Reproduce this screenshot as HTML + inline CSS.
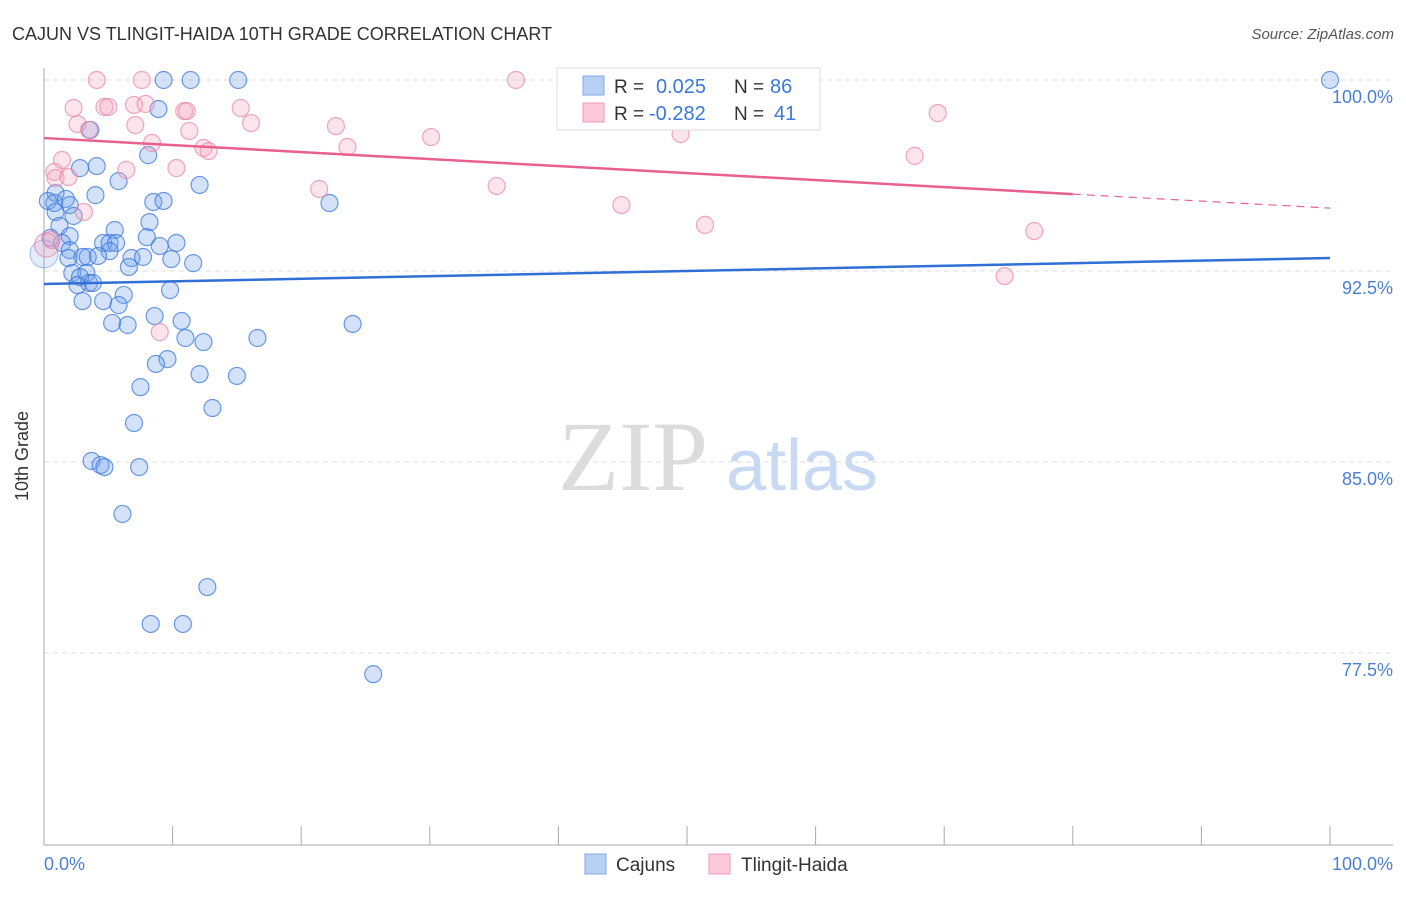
<!DOCTYPE html>
<html><head><meta charset="utf-8"><style>
body{margin:0;background:#fff;font-family:"Liberation Sans",sans-serif;}
svg text{font-family:"Liberation Sans",sans-serif;}
</style></head><body>
<svg id="chart" width="1406" height="892" viewBox="0 0 1406 892" xmlns="http://www.w3.org/2000/svg">
<text x="12" y="40" font-size="18" fill="#333">CAJUN VS TLINGIT-HAIDA 10TH GRADE CORRELATION CHART</text>
<text x="1394" y="39" font-size="15" fill="#555" font-style="italic" text-anchor="end">Source: ZipAtlas.com</text>
<g>
<text x="633" y="490" font-size="100" fill="#dcdcdc" style="font-family:'Liberation Serif',serif" text-anchor="middle">ZIP</text>
<text x="802" y="490" font-size="72" fill="#c8daf3" text-anchor="middle">atlas</text>
</g>
<g id="grid"></g><g id="axes"></g><g id="marks"></g>
<text x="28" y="456" font-size="18" fill="#333" transform="rotate(-90 28 456)" text-anchor="middle">10th Grade</text>
<text x="44" y="870" font-size="18" fill="#4a7fd6">0.0%</text>
<text x="1393" y="870" font-size="18" fill="#4a7fd6" text-anchor="end">100.0%</text>
<g>
<rect x="557" y="68" width="263" height="62" fill="#fff" stroke="#ddd"/>
<rect x="583" y="76" width="21" height="19" fill="#b7d1f5" stroke="#7fa9e8"/>
<rect x="583" y="103" width="21" height="19" fill="#fbc9d8" stroke="#ef9ab5"/>
<text x="614" y="93" font-size="19" fill="#333">R =</text><text x="656" y="93" font-size="20" fill="#3b78d8">0.025</text>
<text x="734" y="93" font-size="19" fill="#333">N =</text><text x="770" y="93" font-size="20" fill="#3b78d8">86</text>
<text x="614" y="120" font-size="19" fill="#333">R =</text><text x="649" y="120" font-size="20" fill="#3b78d8">-0.282</text>
<text x="734" y="120" font-size="19" fill="#333">N =</text><text x="774" y="120" font-size="20" fill="#3b78d8">41</text>
</g>
<g>
<rect x="585" y="854" width="21" height="20" fill="#b7d1f5" stroke="#7fa9e8"/>
<text x="616" y="871" font-size="19" fill="#333">Cajuns</text>
<rect x="709" y="854" width="21" height="20" fill="#fbc9d8" stroke="#ef9ab5"/>
<text x="741" y="871" font-size="19" fill="#333">Tlingit-Haida</text>
</g>
</svg>
<script>
const yTicks=[100,92.5,85,77.5];
const yTickLabels=["100.0%","92.5%","85.0%","77.5%"];
const xTicks=[0,10,20,30,40,50,60,70,80,90,100];
const cajunX=[9.3,11.4,15.1,100,8.9,3.6,8.1,4.1,2.8,5.8,12.1,0.9,4.0,0.3,0.8,1.7,2.0,8.5,9.3,22.2,0.9,2.3,8.2,1.2,5.5,2.0,8.0,0.5,1.4,4.6,5.1,5.6,9.0,10.3,2.0,5.1,3.0,3.4,4.2,1.9,6.8,7.7,9.9,11.6,6.6,2.2,3.3,2.8,3.5,3.8,2.6,9.8,6.2,3.0,4.6,5.8,10.7,8.6,5.3,6.5,24.0,16.6,11.0,12.4,9.6,8.7,12.1,15.0,7.5,13.1,7.0,3.7,4.4,4.7,7.4,6.1,12.7,8.3,10.8,25.6,0];
const cajunY=[100,100,100,100,98.86,98.04,97.05,96.62,96.54,96.03,95.88,95.56,95.48,95.25,95.17,95.33,95.09,95.21,95.25,95.17,94.82,94.66,94.42,94.27,94.11,93.87,93.83,93.80,93.60,93.60,93.60,93.60,93.48,93.60,93.32,93.28,93.05,93.05,93.09,93.01,93.01,93.05,92.97,92.81,92.66,92.42,92.42,92.26,92.03,92.03,91.95,91.75,91.56,91.32,91.32,91.16,90.54,90.73,90.46,90.38,90.42,89.87,89.87,89.71,89.04,88.85,88.45,88.38,87.94,87.12,86.53,85.04,84.88,84.80,84.80,82.96,80.09,78.64,78.64,76.67,93.17];
const tlingitX=[4.1,7.6,36.7,2.3,4.7,5.0,7.0,7.9,10.9,11.1,15.3,69.5,2.6,7.1,16.1,22.7,3.5,11.3,8.4,30.1,49.5,23.6,12.4,12.8,67.7,1.4,6.4,0.8,10.3,0.9,1.9,21.4,35.2,44.9,3.1,51.4,77.0,74.7,9.0,0.2,0.6];
const tlingitY=[100,100,100,98.90,98.94,98.94,99.02,99.06,98.78,98.78,98.90,98.70,98.27,98.23,98.31,98.19,98.04,98.0,97.53,97.76,97.88,97.37,97.33,97.21,97.02,96.86,96.47,96.39,96.54,96.15,96.19,95.72,95.84,95.09,94.82,94.31,94.07,92.30,90.10,93.52,93.72];
const cajunTrend=[91.99,93.01];
const tlingitTrend=[97.72,94.97];
const tlingitSolidEnd=80;
const NS="http://www.w3.org/2000/svg";
const X=v=>44+v*12.86;
const Y=v=>80+(100-v)*191/7.5;
function mk(tag,attrs,parent){const e=document.createElementNS(NS,tag);for(const k in attrs)e.setAttribute(k,attrs[k]);parent.appendChild(e);return e;}
const grid=document.getElementById('grid'),axes=document.getElementById('axes'),marks=document.getElementById('marks');
yTicks.forEach((t,i)=>{
 const l=mk('line',{x1:44,x2:1393,y1:Y(t),y2:Y(t),stroke:'#ddd','stroke-dasharray':'5,4'},grid);
 
 
 const tx=mk('text',{x:1393,y:Y(t)+23,'font-size':18,fill:'#4a7fd6','text-anchor':'end'},grid);
 tx.textContent=yTickLabels[i];
 
 
});
const ya=mk('line',{x1:44,x2:44,y1:68,y2:845,stroke:'#aaa'},axes);


const xa=mk('line',{x1:44,x2:1393,y1:845,y2:845,stroke:'#aaa'},axes);


xTicks.forEach(t=>{
 const l=mk('line',{x1:X(t),x2:X(t),y1:826,y2:845,stroke:'#aaa'},axes);
 
 
});
cajunX.forEach((v,i)=>{
 const big=v===0;
 const c=mk('circle',{cx:X(v),cy:Y(cajunY[i]),r:big?14:8.5,fill:big?'rgba(110,160,235,0.2)':'rgba(110,160,235,0.3)',stroke:big?'rgba(60,120,220,0.4)':'rgba(60,120,220,0.75)','stroke-width':1.2},marks);
 
 
});
tlingitX.forEach((v,i)=>{
 const c=mk('circle',{cx:X(v),cy:Y(tlingitY[i]),r:v<0.3?12:8.5,fill:'rgba(245,165,190,0.3)',stroke:'rgba(232,130,165,0.7)','stroke-width':1.2},marks);
 
 
});
const bl=mk('line',{x1:X(0),x2:X(100),y1:Y(cajunTrend[0]),y2:Y(cajunTrend[1]),stroke:'#2f6fd6','stroke-width':2.5},marks);


const ym=tlingitTrend[0]+(tlingitTrend[1]-tlingitTrend[0])*tlingitSolidEnd/100;
const pl=mk('line',{x1:X(0),x2:X(tlingitSolidEnd),y1:Y(tlingitTrend[0]),y2:Y(ym),stroke:'#e8608e','stroke-width':2.5},marks);


const pd=mk('line',{x1:X(tlingitSolidEnd),x2:X(100),y1:Y(ym),y2:Y(tlingitTrend[1]),stroke:'#e8608e','stroke-width':1.2,'stroke-dasharray':'8,6'},marks);


</script>
</body></html>
